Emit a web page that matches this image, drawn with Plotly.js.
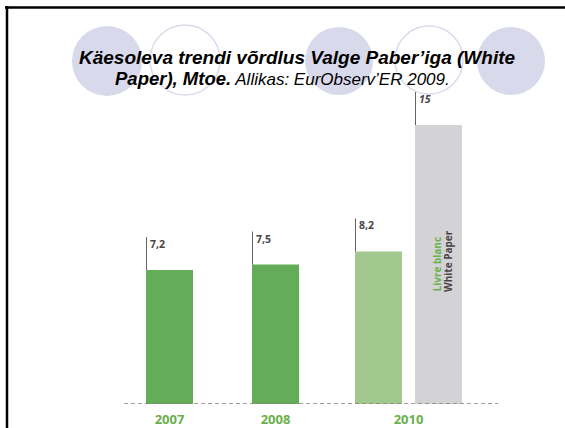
<!DOCTYPE html>
<html>
<head>
<meta charset="utf-8">
<script src="https://cdn.plot.ly/plotly-3.0.1.min.js"></script>
<style>html,body{margin:0;padding:0;background:#fff;}#chart{width:565px;height:428px;}</style>
</head>
<body>
<div id="chart"></div>
<script>
// ---- data ----
const years = ["2007", "2008", "2010"];
const trendValues = [7.2, 7.5, 8.2];
const trendLabels = ["7,2", "7,5", "8,2"];
const whitePaperCategory = ["White Paper"];
const whitePaperValues = [15];
const whitePaperLabels = ["15"];

// ---- layout constants (pixel-based horizontal layout) ----
const W = 565, H = 428, BASE = 404;
const PX_PER_UNIT = 18.6;
const barWidth = 47;
const trendCenters = [169.5, 275.5, 378.5];
const wpCenters = [438.5];
const yearTickPos = [169.5, 275.5, 408.5];

const fx = x => x / W;
const fy = y => (BASE - y) / BASE;

const trendColors = ["#63ad59", "#63ad59", "#a1c98f"];

const traces = [
  {
    type: "bar", name: "Trend", x: trendCenters, y: trendValues, width: barWidth,
    marker: {color: trendColors, line: {width: 0}}, hoverinfo: "skip"
  },
  {
    type: "bar", name: "White Paper", x: wpCenters, y: whitePaperValues, width: barWidth,
    marker: {color: "#d3d3d5", line: {width: 0}}, hoverinfo: "skip"
  }
];

const shapes = [];
// background circles
const circles = [
  {cx: 107, cy: 61, r: 35, fill: true},
  {cx: 185, cy: 60, r: 35, fill: false},
  {cx: 339, cy: 61, r: 34, fill: true},
  {cx: 429, cy: 60, r: 34, fill: false},
  {cx: 511, cy: 61, r: 34, fill: true}
];
circles.forEach(c => shapes.push({
  type: "circle", xref: "paper", yref: "paper", layer: "below",
  x0: fx(c.cx - c.r), x1: fx(c.cx + c.r), y0: fy(c.cy + c.r), y1: fy(c.cy - c.r),
  fillcolor: c.fill ? "#d9d9ec" : "rgba(0,0,0,0)",
  line: {color: "#dadaee", width: c.fill ? 0 : 1.5}
}));
// frame lines (top and left)
shapes.push({type: "line", xref: "paper", yref: "paper", x0: fx(5), x1: fx(W), y0: fy(7.5), y1: fy(7.5), line: {color: "#000", width: 2.5}});
shapes.push({type: "line", xref: "paper", yref: "paper", x0: fx(7), x1: fx(7), y0: fy(6), y1: fy(H), line: {color: "#000", width: 2.5}});
// dashed baseline
shapes.push({type: "line", xref: "paper", yref: "y", x0: fx(124), x1: fx(498), y0: 0, y1: 0, line: {color: "#8b7d74", width: 1.5, dash: "4px,3px"}});

const annotations = [];
// value leader lines + labels
function addValue(center, value, label, italic) {
  const left = center - barWidth / 2;
  shapes.push({
    type: "line", xref: "x", yref: "y", ysizemode: "pixel", yanchor: value,
    x0: left + 0.5, x1: left + 0.5, y0: 0, y1: 33,
    line: {color: "#6b625e", width: 1}
  });
  annotations.push({
    x: left, y: value, xref: "x", yref: "y", xanchor: "left", yanchor: "middle",
    xshift: 2, yshift: 26, showarrow: false,
    text: italic ? "<b><i>" + label + "</i></b>" : "<b>" + label + "</b>",
    font: {family: "Open Sans", size: 10.5, color: "#4a4545"}
  });
}
trendValues.forEach((v, i) => addValue(trendCenters[i], v, trendLabels[i], false));
whitePaperValues.forEach((v, i) => addValue(wpCenters[i], v, whitePaperLabels[i], true));

// rotated labels inside white paper bar
annotations.push({
  xref: "paper", yref: "paper", x: fx(436), y: fy(294), xanchor: "center", yanchor: "bottom",
  textangle: -90, showarrow: false, text: "<b>Livre blanc</b>",
  font: {family: "Open Sans", size: 10, color: "#6ab04c"}
});
annotations.push({
  xref: "paper", yref: "paper", x: fx(448), y: fy(294), xanchor: "center", yanchor: "bottom",
  textangle: -90, showarrow: false, text: "<b>White Paper</b>",
  font: {family: "Open Sans", size: 10, color: "#4a4545"}
});

// title lines
annotations.push({
  xref: "paper", yref: "paper", x: fx(297), y: fy(57), xanchor: "center", yanchor: "middle",
  showarrow: false, text: "<b><i>Käesoleva trendi võrdlus Valge Paber’iga (White</i></b>",
  font: {family: "Liberation Sans, Arial", size: 19, color: "#000"}
});
annotations.push({
  xref: "paper", yref: "paper", x: fx(282), y: fy(79), xanchor: "center", yanchor: "middle",
  showarrow: false,
  text: "<b><i>Paper), Mtoe.</i></b><i><span style=\"font-size:17px\"> Allikas: EurObserv’ER 2009.</span></i>",
  font: {family: "Liberation Sans, Arial", size: 18.5, color: "#000"}
});

const layout = {
  width: W, height: H,
  margin: {l: 0, r: 0, t: 0, b: H - BASE, pad: 0},
  paper_bgcolor: "#fff", plot_bgcolor: "rgba(0,0,0,0)",
  showlegend: false,
  barmode: "overlay",
  xaxis: {
    range: [0, W], showgrid: false, zeroline: false, showline: false, ticks: "",
    tickmode: "array", tickvals: yearTickPos, ticktext: years.map(y => "<b>" + y + "</b>"),
    tickfont: {family: "Open Sans", size: 13, color: "#6ab04c"},
    ticklabelstandoff: 6, fixedrange: true
  },
  yaxis: {range: [0, BASE / PX_PER_UNIT], visible: false, fixedrange: true},
  shapes: shapes,
  annotations: annotations
};

Plotly.newPlot("chart", traces, layout, {displayModeBar: false, staticPlot: true});
</script>
</body>
</html>
